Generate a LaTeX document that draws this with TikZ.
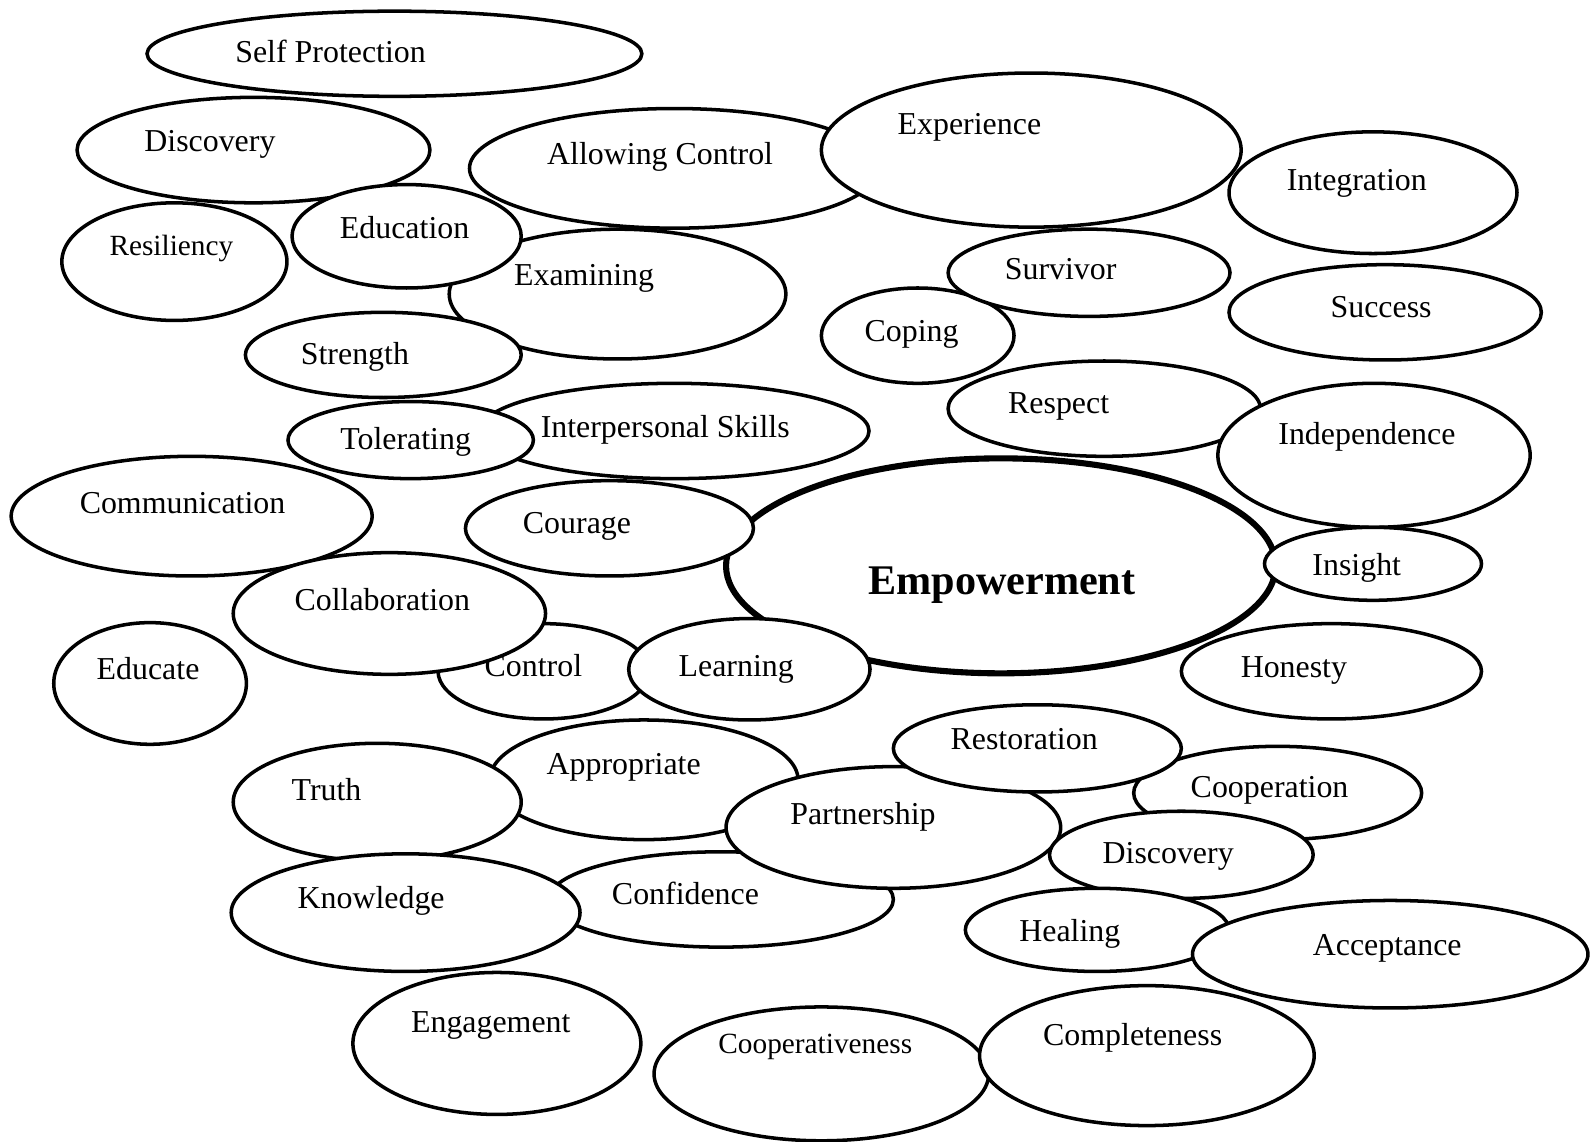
\documentclass[tikz,border=0pt]{standalone}
\usepackage{fontspec}
\setmainfont{Liberation Serif}
\usetikzlibrary{shapes.geometric}

\begin{document}
\begin{tikzpicture}[x=0.0152cm, y=-0.0152cm,
  bub/.style={draw, ellipse, fill=white, line width=1.5pt, inner sep=0pt},
  word/.style={anchor=base, inner sep=0pt, font=\fontsize{13.6}{16}\selectfont},
  smallword/.style={word, font=\fontsize{12.5}{15}\selectfont},
  bigword/.style={word, font=\fontsize{18}{21}\selectfont\bfseries}]
\useasboundingbox (0,0) rectangle (1568,1126);
% upper half, back to front
\foreach \nm/\cx/\cy/\rx/\ry/\tx/\ty/\txt in {
  selfp/389/53/244/42/326/62/Self Protection,
  disc1/250/148/174/52/207/149/Discovery,
  allow/665/166/202/59/651/162/Allowing Control,
  exper/1017/148/207/76/956/133/Experience,
  integ/1354/190/142/60/1338/188/Integration,
  exam/609/290/166/64/576/282/Examining,
  educ/401/233/113/51/399/235/Education,
  stren/378/350/136/42/350/359/Strength,
  coping/905/331/95/47/899/337/Coping,
  surv/1074/269/139/43/1046/276/Survivor,
  succ/1366/308/154/47/1362/313/Success,
  resp/1089/403/154/47/1044/408/Respect,
  indep/1355/449/154/71/1348/438/Independence,
  inter/665/425/192/47/656/431/Interpersonal Skills,
  toler/405/434/121/38/400/443/Tolerating,
  commu/189/509/178/59/180/506/Communication,
  contr/536/662/104/47/526/667/Control,
  colla/384/605/154/60/377/602/Collaboration,
  educa/148/674/95/60/146/670/Educate,
  honest/1313/662/148/47/1276/668/Honesty}{
  \node[bub, minimum width=2*\rx*0.0152cm, minimum height=2*\ry*0.0152cm] (\nm) at (\cx,\cy) {};
  \node[word] (\nm-t) at (\tx,\ty) {\txt};
}
\node[bub, minimum width=222*0.0152cm, minimum height=116*0.0152cm] (resil) at (172,258) {};
\node[smallword] (resil-t) at (169,252) {Resiliency};
% centre word
\node[bub, line width=2.6pt, minimum width=542*0.0152cm, minimum height=212*0.0152cm] (empow) at (987,558) {};
\node[bigword] (empow-t) at (988,586) {Empowerment};
\node[bub, minimum width=330*0.0152cm, minimum height=132*0.0152cm] (coopv) at (810,1059) {};
\node[smallword] (coopv-t) at (804,1039) {Cooperativeness};
% lower half, back to front
\foreach \nm/\cx/\cy/\rx/\ry/\tx/\ty/\txt in {
  cour/601/521/142/47/569/526/Courage,
  learn/739/660/119/50/726/667/Learning,
  insig/1354/556/107/36/1338/568/Insight,
  appr/635/769/152/59/615/764/Appropriate,
  truth/372/791/142/58/322/789/Truth,
  confi/711/887/170/47/676/892/Confidence,
  knowl/400/900/172/58/366/896/Knowledge,
  partn/881/816/165/60/851/813/Partnership,
  coope/1260/782/142/46/1252/786/Cooperation,
  resto/1023/738/142/43/1010/739/Restoration,
  disc2/1165/843/130/43/1152/852/Discovery,
  heal/1082/917/130/41/1055/928/Healing,
  accep/1371/941/195/53/1368/942/Acceptance,
  engag/490/1029/142/70/484/1018/Engagement,
  compl/1131/1041/165/69/1117/1031/Completeness}{
  \node[bub, minimum width=2*\rx*0.0152cm, minimum height=2*\ry*0.0152cm] (\nm) at (\cx,\cy) {};
  \node[word] (\nm-t) at (\tx,\ty) {\txt};
}
\end{tikzpicture}
\end{document}
